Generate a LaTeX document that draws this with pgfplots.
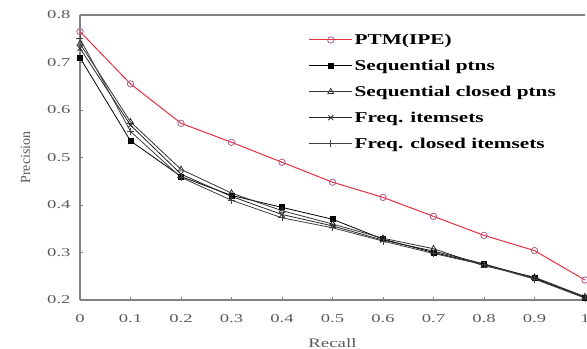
\documentclass[border=0pt]{standalone}
\usepackage{fontspec}
\setmainfont{Liberation Serif}
\newfontfamily\legfont[FakeStretch=1.42]{Liberation Serif}
\newfontfamily\tickfont[FakeStretch=1.55]{Liberation Serif}
\newfontfamily\labfont[FakeStretch=1.45]{Liberation Serif}
\usepackage{pgfplots}
\pgfplotsset{compat=1.18}
\definecolor{ptmred}{RGB}{228,48,64}
\definecolor{ptmmark}{RGB}{170,90,140}
\definecolor{axgray}{RGB}{130,130,130}
\definecolor{txtgray}{RGB}{90,90,90}
\begin{document}
\begin{tikzpicture}
\begin{axis}[
  scale only axis, width=505pt, height=285pt,
  xmin=0, xmax=1, ymin=0.2, ymax=0.8,
  axis x line*=bottom, axis y line*=left,
  axis line style={axgray, line width=1.2pt},
  xtick={0,0.1,0.2,0.3,0.4,0.5,0.6,0.7,0.8,0.9,1},
  xticklabels={0,0.1,0.2,0.3,0.4,0.5,0.6,0.7,0.8,0.9,1},
  ytick={0.2,0.3,0.4,0.5,0.6,0.7,0.8},
  yticklabels={0.2,0.3,0.4,0.5,0.6,0.7,0.8},
  tick align=inside, major tick length=3pt,
  tick style={axgray, line width=0.6pt},
  ticklabel style={font=\tickfont\fontsize{12}{14}\selectfont, text=txtgray},
  xticklabel style={yshift=-11pt},
  yticklabel style={xshift=-6pt},
  xlabel={Recall}, ylabel={Precision},
  xlabel style={font=\labfont\fontsize{13}{15}\selectfont, text=txtgray, yshift=-9pt},
  ylabel style={font=\fontsize{14}{16}\selectfont, text=txtgray, yshift=10pt},
  legend cell align=left,
  legend style={draw=none, fill=none, at={(rel axis cs:0.447,0.948)}, anchor=north west,
    font=\legfont\fontsize{15}{17}\selectfont\bfseries, row sep=10pt},
  legend image code/.code={\draw[mark repeat=2,mark phase=2] plot coordinates {(0cm,0cm) (0.75cm,0cm) (1.5cm,0cm)};},
  clip=false,
]
\draw[axgray, line width=1.2pt] (rel axis cs:0,1) -- (rel axis cs:1,1);
\addplot[ptmred, line width=1pt, mark=o, mark size=3.2pt, mark options={draw=ptmmark, line width=0.8pt}]
 coordinates {(0,0.765) (0.1,0.655) (0.2,0.572) (0.3,0.532) (0.4,0.490) (0.5,0.448) (0.6,0.416) (0.7,0.376) (0.8,0.336) (0.9,0.304) (1,0.242)};
\addlegendentry{PTM(IPE)}
\addplot[black, line width=0.8pt, mark=square*, mark size=2.5pt]
 coordinates {(0,0.710) (0.1,0.535) (0.2,0.460) (0.3,0.420) (0.4,0.395) (0.5,0.370) (0.6,0.328) (0.7,0.300) (0.8,0.275) (0.9,0.247) (1,0.205)};
\addlegendentry{Sequential ptns}
\addplot[black!80, line width=0.8pt, mark=triangle, mark size=3.3pt]
 coordinates {(0,0.740) (0.1,0.575) (0.2,0.475) (0.3,0.425) (0.4,0.388) (0.5,0.360) (0.6,0.330) (0.7,0.308) (0.8,0.272) (0.9,0.248) (1,0.207)};
\addlegendentry{Sequential closed ptns}
\addplot[black!85, line width=0.8pt, mark=x, mark size=3.5pt]
 coordinates {(0,0.730) (0.1,0.568) (0.2,0.465) (0.3,0.418) (0.4,0.380) (0.5,0.356) (0.6,0.326) (0.7,0.303) (0.8,0.276) (0.9,0.245) (1,0.206)};
\addlegendentry{Freq. itemsets}
\addplot[black!75, line width=0.8pt, mark=+, mark size=3.5pt]
 coordinates {(0,0.750) (0.1,0.555) (0.2,0.458) (0.3,0.410) (0.4,0.373) (0.5,0.352) (0.6,0.324) (0.7,0.298) (0.8,0.274) (0.9,0.244) (1,0.204)};
\addlegendentry{Freq. closed itemsets}
\end{axis}
\pgfresetboundingbox
\path[use as bounding box] ([shift={(-80pt,-49pt)}]current axis.south west) rectangle ([shift={(2pt,15pt)}]current axis.north east);
\end{tikzpicture}
\end{document}
